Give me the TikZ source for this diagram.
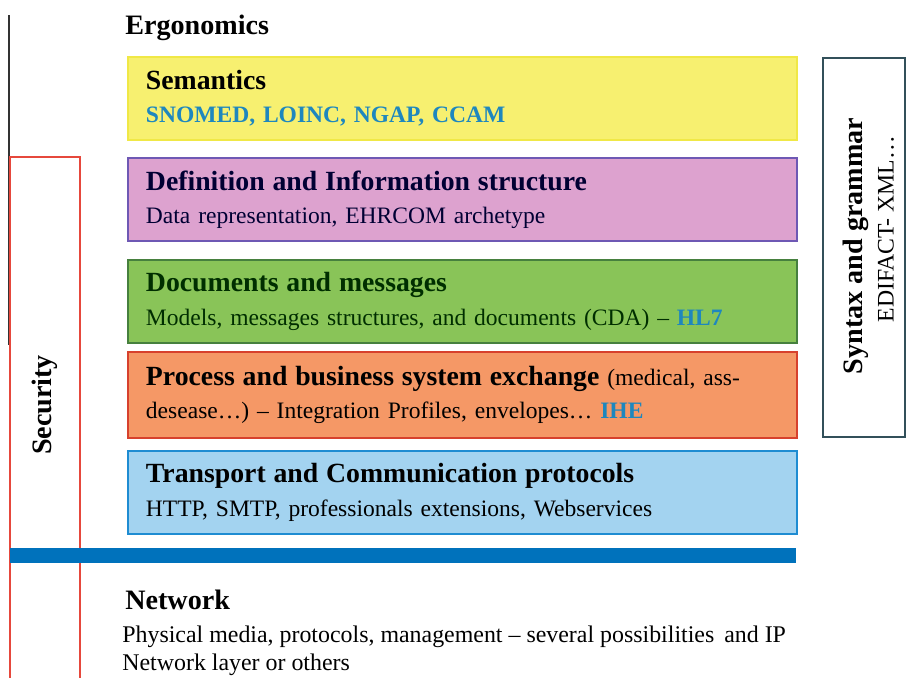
\documentclass[tikz,border=0pt]{standalone}
\usepackage{fontspec}
\setmainfont{Liberation Serif}
\usepackage{tikz}
\usetikzlibrary{positioning}

\definecolor{semfill}{RGB}{247,240,112}
\definecolor{semline}{RGB}{240,232,70}
\definecolor{deffill}{RGB}{221,162,207}
\definecolor{defline}{RGB}{110,88,180}
\definecolor{docfill}{RGB}{137,196,88}
\definecolor{docline}{RGB}{70,128,62}
\definecolor{procfill}{RGB}{245,152,102}
\definecolor{procline}{RGB}{215,65,45}
\definecolor{tranfill}{RGB}{163,211,240}
\definecolor{tranline}{RGB}{30,140,210}
\definecolor{netbar}{RGB}{0,114,188}
\definecolor{stdblue}{RGB}{30,135,190}
\definecolor{secred}{RGB}{230,72,60}
\definecolor{synline}{RGB}{50,80,90}

\def\ltitle#1{{\fontsize{15.8}{19}\selectfont\bfseries #1}}
\def\lstd#1{{\color{stdblue}\bfseries #1}}

\tikzset{
  layer/.style={draw, line width=1.1pt, anchor=north west, align=left,
    text width=12.66cm, inner xsep=0.36cm, minimum height=1.66cm,
    font=\fontsize{13.4}{19}\selectfont},
  sidelabel/.style={rotate=90, font=\fontsize{16}{19}\selectfont\bfseries}
}

\begin{document}
\begin{tikzpicture}[x=0.02cm, y=-0.02cm]
		%%%%% START %%%%%
		\clip (0,0) rectangle (907,677);
		
		\draw[black!80, line width=0.8pt] (9,15) -- (9,345);
		\draw[secred, line width=1.1pt] (10,700) -- (10,157) -- (80,157) -- (80,700);
		\node[sidelabel] (secu) at (45,405) {Security};
		
		\node[anchor=base west, inner sep=0pt, font=\fontsize{16}{19}\selectfont\bfseries] (ergo) at (125,34) {Ergonomics};
		
		\node[layer, fill=semfill, draw=semline] (sem) at (127,56)
		  {\ltitle{Semantics}\\ \lstd{SNOMED, LOINC, NGAP, CCAM}};
		\node[layer, fill=deffill, draw=defline, text=black!80!blue] (defn) at (127,157)
		  {\ltitle{Definition and Information structure}\\ Data representation, EHRCOM archetype};
		\node[layer, fill=docfill, draw=docline, text=black!70!green!60!black] (docs) at (127,259)
		  {\ltitle{Documents and messages}\\ Models, messages structures, and documents (CDA) – \lstd{HL7}};
		\node[layer, fill=procfill, draw=procline, minimum height=1.72cm] (proc) at (127,351)
		  {\ltitle{Process and business system exchange} (medical, ass-\\ desease…) – Integration Profiles, envelopes… \lstd{IHE}};
		\node[layer, fill=tranfill, draw=tranline] (tran) at (127,450)
		  {\ltitle{Transport and Communication protocols}\\ HTTP, SMTP, professionals extensions, Webservices};
		
		\fill[netbar] (10,548) rectangle (796,563);
		
		\node[anchor=base west, inner sep=0pt, font=\fontsize{16}{19}\selectfont\bfseries] (net) at (125,609) {Network};
		\node[anchor=base west, align=left, inner sep=0pt, font=\fontsize{13.6}{15.5}\selectfont] (netdesc) at (122,670)
		  {Physical media, protocols, management – several possibilities\, and IP\\ Network layer or others};
		
		\draw[synline, line width=1.1pt, fill=white] (823,58) rectangle (905,437);
		\node[sidelabel] (syn) at (856,246) {Syntax and grammar};
		\node[rotate=90, font=\fontsize{13.5}{16}\selectfont] (synsub) at (886,229) {EDIFACT- XML…};
		%%%%% END %%%%%
\end{tikzpicture}
\end{document}
